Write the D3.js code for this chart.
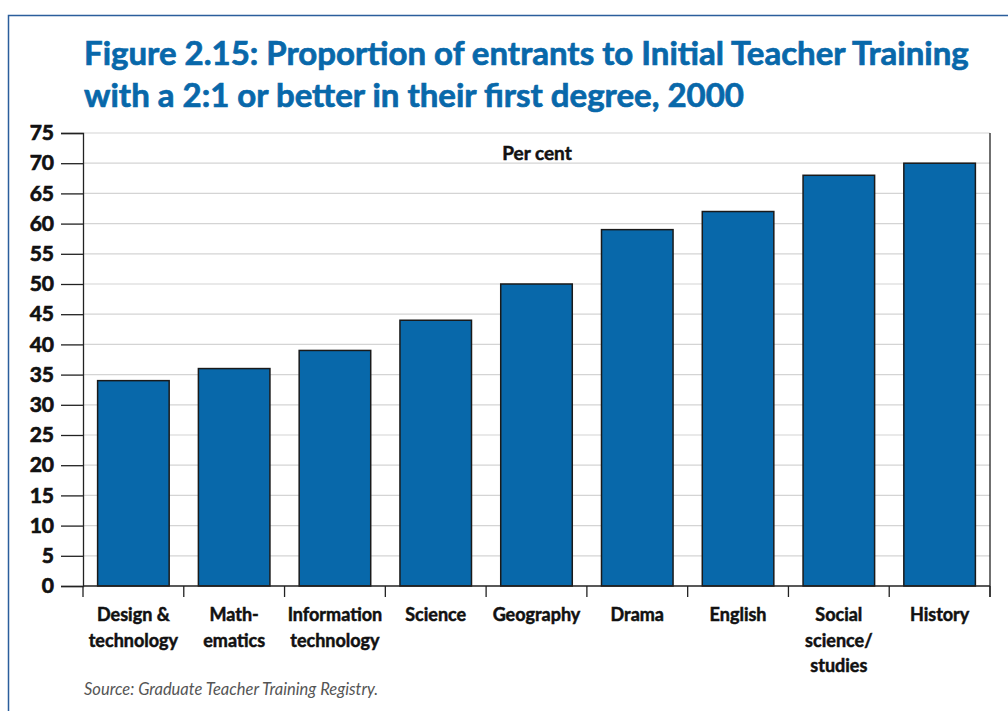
<!DOCTYPE html>
<html>
<head>
<meta charset="utf-8">
<script src="https://cdn.jsdelivr.net/npm/d3@7"></script>
<style>
  body { margin: 0; background: #fff; }
  svg { display: block; }
</style>
</head>
<body>
<div id="chart"></div>
<script>
const categories = [
  ["Design &", "technology"],
  ["Math-", "ematics"],
  ["Information", "technology"],
  ["Science"],
  ["Geography"],
  ["Drama"],
  ["English"],
  ["Social", "science/", "studies"],
  ["History"]
];
const values = [34, 36, 39, 44, 50, 59, 62, 68, 70];
const yTicks = [0, 5, 10, 15, 20, 25, 30, 35, 40, 45, 50, 55, 60, 65, 70, 75];
const titleLines = [
  "Figure 2.15: Proportion of entrants to Initial Teacher Training",
  "with a 2:1 or better in their first degree, 2000"
];

const width = 1008;
const height = 711;
const plotLeft = 83, plotRight = 990, plotTop = 133, plotBottom = 586;
const blue = "#0868aa";
const font = "Lato, 'Open Sans', sans-serif";

const svg = d3.select("#chart")
  .append("svg")
  .attr("width", width)
  .attr("height", height);

// frame
svg.append("path")
  .attr("d", `M8.5,${height + 5} V15.5 H${width + 5}`)
  .attr("fill", "none")
  .attr("stroke", "#2b5e9c")
  .attr("stroke-width", 1.5);

// title
svg.append("g")
  .selectAll("text")
  .data(titleLines)
  .enter()
  .append("text")
  .attr("x", 84)
  .attr("y", (d, i) => 65 + i * 42)
  .attr("fill", blue)
  .attr("stroke", blue)
  .attr("stroke-width", 0.7)
  .attr("font-family", font)
  .attr("font-weight", "bold")
  .attr("font-size", 33)
  .text((d) => d);

const xScale = d3.scaleBand()
  .domain(d3.range(categories.length))
  .range([plotLeft, plotRight])
  .paddingInner(0.29)
  .paddingOuter(0.145);

const yScale = d3.scaleLinear()
  .domain([0, 75])
  .range([plotBottom, plotTop]);

// gridlines
svg.append("g")
  .selectAll("line")
  .data(yTicks.filter((d) => d > 0))
  .enter()
  .append("line")
  .attr("x1", plotLeft)
  .attr("x2", plotRight)
  .attr("y1", (d) => yScale(d))
  .attr("y2", (d) => yScale(d))
  .attr("stroke", "#d4d4d4")
  .attr("stroke-width", 1.2);

// right border
svg.append("line")
  .attr("x1", plotRight).attr("x2", plotRight)
  .attr("y1", yScale(75)).attr("y2", plotBottom + 11)
  .attr("stroke", "#222")
  .attr("stroke-width", 1.3);

// bars
svg.append("g")
  .selectAll("rect")
  .data(values)
  .enter()
  .append("rect")
  .attr("x", (d, i) => xScale(i))
  .attr("y", (d) => yScale(d))
  .attr("width", xScale.bandwidth())
  .attr("height", (d) => plotBottom - yScale(d))
  .attr("fill", blue)
  .attr("stroke", "#1a1a1a")
  .attr("stroke-width", 1.5);

// y axis
const yAxis = d3.axisLeft(yScale)
  .tickValues(yTicks)
  .tickSize(22)
  .tickPadding(7)
  .tickFormat(d3.format("d"));

svg.append("g")
  .attr("transform", `translate(${plotLeft}, 0)`)
  .call(yAxis)
  .call((g) => {
    g.select(".domain").attr("stroke", "#222").attr("stroke-width", 1.3);
    g.selectAll(".tick line").attr("stroke", "#222").attr("stroke-width", 1.3);
    g.selectAll(".tick text")
      .attr("fill", "#111")
      .attr("stroke", "#111")
      .attr("stroke-width", 0.7)
      .attr("font-family", font)
      .attr("font-weight", "bold")
      .attr("font-size", 21);
  });

// x axis line and boundary ticks
const step = xScale.step();
svg.append("line")
  .attr("x1", plotLeft).attr("x2", plotRight)
  .attr("y1", plotBottom).attr("y2", plotBottom)
  .attr("stroke", "#222")
  .attr("stroke-width", 1.3);

svg.append("g")
  .selectAll("line")
  .data(d3.range(categories.length + 1))
  .enter()
  .append("line")
  .attr("x1", (i) => plotLeft + i * step)
  .attr("x2", (i) => plotLeft + i * step)
  .attr("y1", plotBottom)
  .attr("y2", plotBottom + 11)
  .attr("stroke", "#222")
  .attr("stroke-width", 1.3);

// category labels
const labels = svg.append("g")
  .selectAll("text")
  .data(categories)
  .enter()
  .append("text")
  .attr("x", (d, i) => xScale(i) + xScale.bandwidth() / 2)
  .attr("y", 621)
  .attr("text-anchor", "middle")
  .attr("fill", "#111")
  .attr("stroke", "#111")
  .attr("stroke-width", 0.5)
  .attr("font-family", font)
  .attr("font-weight", "bold")
  .attr("font-size", 18);

labels.selectAll("tspan")
  .data((d, i) => d.map((t) => ({ t, i })))
  .enter()
  .append("tspan")
  .attr("x", (d) => xScale(d.i) + xScale.bandwidth() / 2)
  .attr("dy", (d, j) => (j === 0 ? 0 : 25.5))
  .text((d) => d.t);

// per cent label
svg.append("text")
  .attr("x", 537)
  .attr("y", 160)
  .attr("text-anchor", "middle")
  .attr("fill", "#111")
  .attr("stroke", "#111")
  .attr("stroke-width", 0.5)
  .attr("font-family", font)
  .attr("font-weight", "bold")
  .attr("font-size", 19)
  .text("Per cent");

// source
svg.append("text")
  .attr("x", 84)
  .attr("y", 695)
  .attr("fill", "#555")
  .attr("font-family", font)
  .attr("font-style", "italic")
  .attr("font-size", 16.5)
  .text("Source: Graduate Teacher Training Registry.");
</script>
</body>
</html>
